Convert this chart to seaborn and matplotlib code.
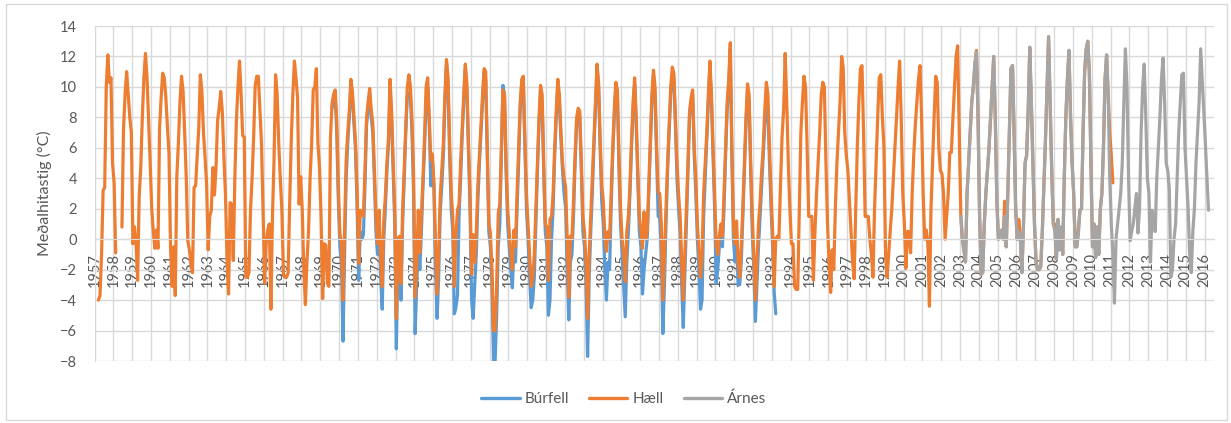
import pandas as pd
import matplotlib
matplotlib.use("Agg")
import matplotlib.pyplot as plt
from matplotlib.lines import Line2D
from matplotlib.patches import Rectangle
import seaborn as sns

FIRST_YEAR = 1957
YEARS = list(range(1957, 2017))
STATIONS = ["Búrfell", "Hæll", "Árnes"]
COLORS = {"Búrfell": "#5B9BD5", "Hæll": "#ED7D31", "Árnes": "#A5A5A5"}

# monthly mean temperature, one row of 12 months per year on the axis
HAELL_START = 1957
haell = [
    [None, None, -4.0, -3.7, -1.0, 3.2, 3.4, 10.0, 12.1, 10.3, 10.6, 5.0],
    [3.7, -0.9, None, None, None, 0.8, 7.2, 9.5, 11.0, 9.5, 8.0, 7.0],
    [-0.3, 0.8, -0.3, -2.7, 2.8, 4.7, 8.0, 10.6, 12.2, 10.6, 7.8, 5.0],
    [2.0, 0.5, -0.6, 0.6, -0.6, 7.3, 9.3, 10.9, 10.6, 9.3, 7.5, 5.6],
    [-0.5, -3.1, -0.5, -3.7, 4.1, 6.3, 9.0, 10.7, 9.7, 7.0, 4.1, -0.1],
    [-0.7, -1.6, -2.2, 3.4, 3.5, 5.5, 7.3, 10.8, 9.7, 7.0, 5.4, 3.6],
    [-0.7, 1.5, 1.9, 4.7, 2.9, 4.7, 7.8, 8.6, 9.7, 8.4, 5.5, 3.0],
    [-1.2, -3.6, 2.4, 2.3, -1.4, 4.0, 7.8, 10.0, 11.7, 9.5, 6.8, 6.7],
    [-2.5, -2.5, -2.2, 1.9, 4.0, 6.7, 10.1, 10.7, 10.7, 8.5, 6.3, 1.9],
    [-2.9, -0.3, 0.6, 1.0, -4.6, 1.5, 5.2, 10.8, 9.5, 6.3, 4.0, 1.9],
    [-2.3, -2.5, -2.5, -2.2, 2.5, 6.5, 9.5, 11.7, 10.6, 9.3, 2.3, 4.1],
    [1.9, -2.0, -4.3, -1.5, 0.5, 4.0, 6.3, 9.8, 10.0, 11.2, 6.3, 4.7],
    [1.5, -3.9, -0.3, -0.4, -2.9, -3.1, 6.7, 8.9, 9.5, 9.8, 7.8, 3.4],
    [0.4, -0.3, -4.0, 0.6, 5.2, 7.0, 8.4, 10.5, 9.7, 8.0, 6.3, 3.0],
    [-1.6, 1.9, 1.7, 1.5, 4.5, 8.0, 9.0, 9.9, 8.5, 7.6, 4.5, 1.5],
    [-0.3, 1.9, -1.2, -3.1, 1.2, 2.8, 5.0, 6.7, 10.5, 8.4, 5.0, 1.9],
    [-5.2, 0.0, 0.2, -2.9, 1.9, 4.5, 7.3, 10.0, 10.8, 10.0, 7.8, 4.1],
    [-3.8, -1.6, 1.9, -0.9, 1.5, 4.0, 6.7, 10.0, 10.6, 8.0, 5.2, 5.6],
    [3.6, -0.3, -3.6, -1.0, 2.8, 4.5, 6.3, 9.5, 11.8, 10.6, 6.3, 3.0],
    [1.5, -3.1, 0.2, 1.9, 2.3, 5.0, 7.3, 9.5, 11.5, 10.2, 6.3, 3.0],
    [-2.3, 0.3, -1.5, 0.5, 3.5, 5.5, 7.5, 9.5, 11.2, 11.0, 6.0, 1.0],
    [0.4, -2.0, -6.0, -6.0, -3.0, 1.7, 2.3, 6.0, 9.8, 9.5, 5.0, 2.0],
    [0.5, -1.0, -2.0, 0.6, -0.5, 3.0, 6.0, 9.0, 10.5, 10.7, 6.5, 3.0],
    [1.0, -1.0, -3.1, -2.5, -1.0, 2.0, 5.0, 8.0, 10.1, 9.5, 5.0, 1.0],
    [0.8, -2.7, 1.3, 1.5, 3.0, 6.0, 8.5, 10.5, 9.5, 7.0, 5.0, 4.0],
    [3.4, 0.0, -3.8, 0.2, 0.0, 2.5, 5.5, 8.0, 8.6, 8.4, 5.0, 1.5],
    [0.5, -1.5, -5.2, -1.0, 1.5, 4.0, 6.5, 9.0, 11.5, 10.3, 6.5, 3.5],
    [2.5, 0.2, -0.8, 0.5, 0.0, 3.0, 6.0, 8.5, 10.3, 9.8, 5.5, 2.0],
    [0.0, -1.0, -2.8, 0.5, 1.5, 3.5, 6.5, 9.0, 10.6, 8.0, 4.5, 1.5],
    [0.5, -0.6, 1.8, 0.0, 0.5, 3.5, 6.5, 9.5, 11.1, 10.0, 6.0, 3.1],
    [3.0, 1.0, -4.0, -1.0, 2.0, 5.0, 7.5, 10.0, 11.3, 10.9, 8.0, 5.0],
    [3.0, 1.5, -1.5, -4.0, -1.0, 2.0, 5.0, 8.4, 9.3, 9.8, 6.0, 4.0],
    [1.0, -0.7, -2.5, -1.0, 3.0, 5.0, 7.0, 9.5, 11.7, 9.5, 6.0, 3.0],
    [-0.4, -1.0, 0.2, 1.0, 0.2, 3.0, 6.0, 9.0, 10.5, 12.9, 6.0, 1.0],
    [-0.3, 1.2, -1.5, -2.5, -0.5, 2.0, 5.0, 8.0, 10.2, 9.5, 5.0, 1.5],
    [-1.0, -4.0, -1.5, 1.0, 2.5, 4.5, 6.0, 8.5, 10.3, 9.5, 6.0, 3.0],
    [0.5, -3.1, 0.0, 0.2, 0.0, 3.5, 6.7, 8.5, 12.2, 9.0, 5.0, 2.0],
    [-0.3, -0.3, -3.1, -3.3, -3.3, 2.0, 7.0, 9.0, 10.7, 10.0, 6.0, 1.5],
    [1.5, 1.5, -2.7, 0.5, 3.0, 5.0, 7.0, 9.5, 10.3, 10.0, 5.0, 1.0],
    [-1.6, -3.5, -0.7, -2.0, 2.0, 5.0, 7.0, 9.0, 12.0, 11.3, 7.0, 5.5],
    [4.5, 2.5, 0.5, -1.5, -2.6, 2.0, 6.0, 9.0, 11.2, 11.4, 7.0, 1.5],
    [1.5, 1.5, 0.0, -1.0, -2.5, 2.0, 5.0, 8.0, 10.6, 10.8, 8.0, 6.0],
    [-1.0, -2.5, -1.0, 0.5, 2.0, 4.0, 6.0, 8.0, 10.0, 11.7, 8.0, 3.0],
    [1.0, -1.9, 0.5, 0.5, -0.9, 3.0, 5.5, 7.5, 9.0, 10.5, 11.4, 8.0],
    [3.0, 0.0, 0.6, -0.3, -4.4, 2.0, 5.0, 8.0, 10.7, 10.3, 6.0, 4.5],
    [4.3, 3.0, 0.0, 1.5, 3.0, 5.7, 5.7, 8.0, 10.0, 12.0, 12.7, 7.0],
    [1.7, 0.0, -0.7, -1.5, 3.0, 5.0, 7.0, 9.0, 10.0, 11.5, 12.4, 8.0],
    [1.5, -2.3, -2.2, 1.0, 3.0, 4.5, 6.0, 8.0, 10.0, 12.0, 8.0, 2.5],
    [0.0, 0.3, 0.6, 0.0, 2.5, -0.5, 3.0, 7.0, 11.2, 11.4, 7.0, 2.0],
    [0.0, 1.3, 0.0, -2.2, 1.0, 5.0, 5.5, 8.5, 12.6, 9.0, 5.0, 1.0],
    [-1.5, -2.0, -2.0, -1.8, 0.5, 3.5, 6.5, 10.0, 13.3, 9.0, 4.5, 1.0],
    [1.0, -1.3, 1.3, -0.7, 0.8, -1.0, 4.0, 8.0, 10.5, 12.4, 8.0, 5.0],
    [3.0, -0.5, -0.5, 0.7, 1.9, 2.0, 7.0, 11.0, 12.5, 13.0, 11.0, 5.0],
    [-0.5, 1.0, -1.2, 0.8, -1.0, 2.0, 3.0, 6.0, 10.5, 12.1, 9.6, 7.0],
    [5.5, 3.7],
]

BURFELL_START = 1969
burfell = [
    [None, None, None, None, None, None, None, 8.6, 9.2, 9.4, 7.0, 2.6],
    [-0.5, -1.5, -6.7, -1.0, 4.0, 6.3, 8.0, 10.0, 9.3, 7.5, 5.8, 2.0],
    [-2.7, 0.5, 0.0, 0.3, 3.5, 7.5, 8.5, 9.5, 8.0, 7.0, 4.0, 0.5],
    [-1.0, 1.0, -2.5, -4.6, 0.0, 2.0, 4.5, 6.2, 9.8, 7.8, 4.5, 1.0],
    [-7.2, -1.5, -0.5, -4.0, 1.0, 3.8, 7.0, 9.4, 9.6, 9.3, 7.0, 3.0],
    [-6.2, -3.0, -0.4, -2.0, 0.5, 3.5, 6.0, 9.2, 10.0, 7.5, 3.5, 5.0],
    [3.5, -2.0, -5.2, -2.5, 1.8, 3.5, 5.5, 9.0, 11.5, 10.0, 5.5, 2.0],
    [0.5, -4.9, -4.5, -3.7, 1.5, 4.0, 6.8, 9.0, 11.2, 9.8, 5.8, 2.0],
    [-4.0, -5.2, -3.0, -1.0, 2.5, 5.0, 7.0, 9.0, 11.0, 10.5, 5.5, 0.5],
    [-0.5, -3.0, -8.0, -8.0, -5.0, -0.5, 1.0, 5.5, 10.1, 9.5, 4.5, 1.0],
    [-0.5, -2.0, -3.2, -0.5, -1.5, 2.0, 5.0, 8.5, 10.0, 10.2, 6.0, 2.0],
    [0.0, -2.5, -4.5, -4.0, -2.5, 1.0, 4.5, 7.5, 9.8, 9.0, 4.5, 0.5],
    [-0.5, -5.0, -4.0, 0.0, 2.0, 5.5, 8.0, 10.0, 9.0, 6.5, 4.5, 3.0],
    [2.0, -2.0, -5.3, -1.5, -1.0, 1.5, 5.0, 7.5, 8.0, 8.0, 4.5, 0.5],
    [-0.5, -3.0, -7.7, -2.5, 0.5, 3.0, 6.0, 8.5, 11.2, 10.0, 6.0, 2.5],
    [1.0, -2.0, -4.0, -1.5, -2.0, 2.0, 5.5, 8.0, 10.0, 9.5, 4.6, 1.0],
    [-1.0, -3.0, -5.1, -1.5, 0.5, 3.0, 6.0, 8.5, 10.2, 7.5, 4.0, 0.5],
    [-0.5, -3.6, -2.0, -1.0, 0.0, 3.0, 6.0, 9.0, 10.8, 9.5, 5.5, 1.5],
    [1.4, -1.0, -6.2, -3.0, 1.0, 4.5, 7.0, 9.5, 10.8, 10.5, 7.5, 4.0],
    [2.0, 0.5, -3.0, -5.8, -2.5, 1.0, 4.5, 8.0, 9.0, 9.5, 5.5, 3.0],
    [0.0, -2.0, -4.6, -4.0, 1.5, 4.0, 6.5, 9.0, 11.3, 9.0, 5.5, 2.0],
    [-2.9, -2.0, -0.5, 0.2, -0.5, 2.0, 5.5, 8.5, 10.0, 12.5, 5.5, 0.0],
    [-1.5, 0.0, -3.0, -3.0, -1.5, 1.5, 4.5, 7.5, 9.8, 9.0, 4.5, 0.5],
    [-2.0, -5.4, -3.0, -0.5, 1.5, 3.5, 5.5, 7.5, 8.8, 8.5, 5.0, 2.1],
    [-0.5, -3.5, -4.9],
]

ARNES_START = 2003
arnes = [
    [1.5, 0.0, -0.7, -1.5, 3.0, 5.0, 7.0, 9.0, 10.0, 11.5, 12.3, 8.0],
    [1.5, -2.3, -2.2, 1.0, 3.0, 4.5, 6.0, 8.0, 10.0, 12.0, 8.0, 2.5],
    [0.0, 0.3, 0.6, 0.0, 1.5, -0.5, 3.0, 7.0, 11.2, 11.4, 7.0, 2.0],
    [0.0, 0.5, 0.0, -2.2, 1.0, 5.0, 5.5, 8.5, 12.6, 9.0, 5.0, 1.0],
    [-1.5, -2.0, -2.0, -1.8, 0.5, 3.5, 6.5, 10.0, 13.3, 9.0, 4.5, 1.0],
    [0.5, -1.3, 1.3, -0.7, 0.8, -1.0, 4.0, 8.0, 10.5, 12.4, 8.0, 5.0],
    [3.0, -0.5, -0.5, 0.3, 1.9, 2.0, 7.0, 11.0, 12.5, 13.0, 11.0, 5.0],
    [-0.5, 1.0, -1.2, 0.8, -1.0, 2.0, 3.0, 6.0, 10.5, 12.1, 9.5, 4.0],
    [1.0, -1.0, -4.2, 0.0, 1.0, 2.0, 3.0, 5.0, 9.0, 12.5, 10.0, 4.0],
    [-0.1, 0.5, 1.0, 2.0, 3.0, 0.4, 2.0, 7.0, 10.0, 11.5, 8.0, 4.0],
    [3.0, -1.5, 1.9, 1.0, 0.5, 4.0, 6.0, 8.0, 10.5, 11.9, 9.0, 5.0],
    [4.5, 3.3, -2.5, -2.0, 0.0, 1.0, 4.0, 7.0, 9.0, 10.8, 10.9, 6.0],
    [4.0, 2.0, -1.0, -2.2, 0.5, 2.0, 5.0, 7.0, 9.0, 12.5, 10.5, 8.4],
    [6.3, 4.0, 1.9],
]


def to_frame(name, start, rows):
    recs = []
    seg = 0
    for r, row in enumerate(rows):
        for j, v in enumerate(row):
            if v is None:
                seg += 1  # break the line at missing months
                continue
            month = (start + r - FIRST_YEAR) * 12 + j
            recs.append((name, month + 0.5, v, seg))
    return pd.DataFrame(recs, columns=["station", "month", "temp", "seg"])


df = pd.concat(
    [
        to_frame("Búrfell", BURFELL_START, burfell),
        to_frame("Hæll", HAELL_START, haell),
        to_frame("Árnes", ARNES_START, arnes),
    ],
    ignore_index=True,
)

sns.set_style("whitegrid")
plt.rcParams["font.family"] = ["Lato", "DejaVu Sans"]
GRID = "#d9d9d9"
TXT = "#595959"

W, H = 1231, 423
fig = plt.figure(figsize=(W / 100, H / 100), dpi=100)
ax = fig.add_axes([94.5 / W, 1 - 361 / H, (1214 - 94.5) / W, (361 - 26) / H])

for name in STATIONS:
    sns.lineplot(
        data=df[df["station"] == name],
        x="month",
        y="temp",
        units="seg",
        estimator=None,
        color=COLORS[name],
        lw=2.3,
        legend=False,
        ax=ax,
    )

# category axis crosses at 0, like the original spreadsheet chart
for s in ["top", "right"]:
    ax.spines[s].set_visible(False)
ax.spines["left"].set_color(GRID)
ax.spines["bottom"].set_color(GRID)
ax.spines["bottom"].set_position(("data", 0))

n_months = len(YEARS) * 12 - 6
ax.set_xlim(0, n_months)
ax.set_ylim(-8, 14)
ax.set_yticks(range(-8, 15, 2))
ax.set_xticks([12 * k for k in range(len(YEARS))])
ax.set_xticklabels([str(y) for y in YEARS])
ax.grid(True, color=GRID, lw=1.0)
ax.set_xlabel("")
ax.set_ylabel("Meðalhitastig (°C)", fontsize=11.5, color=TXT, labelpad=6)

ax.tick_params(axis="x", length=0, pad=10, labelsize=10.5, labelcolor=TXT,
               labelrotation=90)
ax.tick_params(axis="y", length=0, pad=12.5, labelsize=10.5, labelcolor=TXT)

handles = [Line2D([], [], color=COLORS[n], lw=2.4) for n in STATIONS]
leg = fig.legend(
    handles,
    STATIONS,
    loc="center",
    bbox_to_anchor=(624 / W, 1 - 399 / H),
    ncol=3,
    frameon=False,
    fontsize=11,
    handlelength=2.5,
    handletextpad=0.35,
    columnspacing=1.3,
)
for t in leg.get_texts():
    t.set_color(TXT)

fig.add_artist(
    Rectangle(
        (5.5 / W, 3 / H),
        (1227 - 5.5) / W,
        (418.5 - 3) / H,
        transform=fig.transFigure,
        fill=False,
        edgecolor=GRID,
        lw=1.0,
    )
)

fig.savefig("out.png", dpi=100)
